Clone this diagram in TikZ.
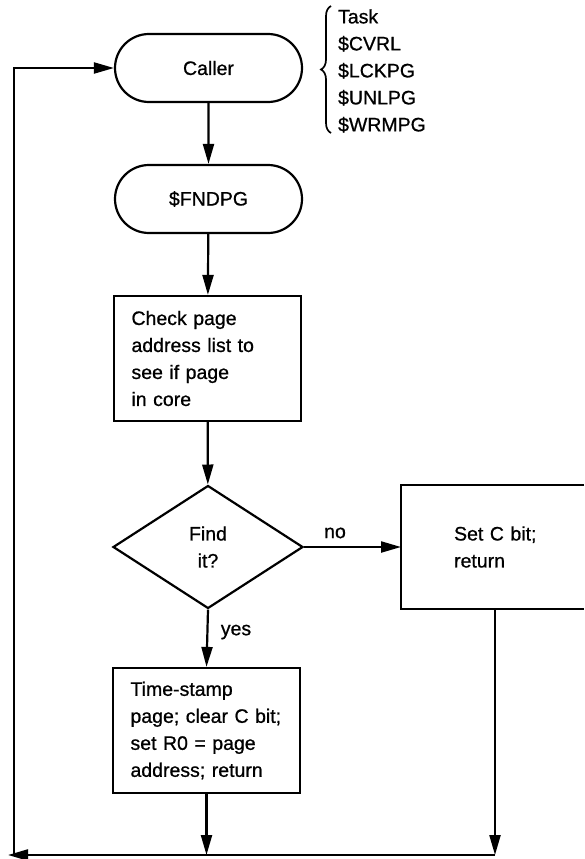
\documentclass[tikz,border=0pt]{standalone}
\usepackage{fontspec}
\setmainfont[FakeBold=0.8]{Liberation Sans}
\usetikzlibrary{arrows.meta,shapes.misc,shapes.geometric,decorations.pathreplacing}
\tikzset{
  txt/.style={font=\fontsize{19.5}{27}\selectfont},
  term/.style={txt,draw,rounded rectangle,minimum width=187pt,minimum height=68pt,inner sep=0pt},
  proc/.style={txt,draw,rectangle,minimum width=187pt,minimum height=125pt,inner sep=0pt,text width=152pt,align=left},
  dec/.style={txt,draw,diamond,minimum width=190pt,minimum height=123pt,inner sep=0pt,align=center},
  flow/.style={-{Triangle[length=20pt,width=11pt]}},
  lbl/.style={txt,inner sep=0pt}
}
\begin{document}
\begin{tikzpicture}[x=1pt,y=-1pt,line width=2.2pt]
\useasboundingbox (0,0) rectangle (584,859);

\node[term] (caller) at (208.5,68) {Caller};
\node[term] (fndpg) at (208.5,199) {\$FNDPG};
\node[proc] (check) at (207.5,358.5) {Check page\\address list to\\see if page\\in core};
\node[dec] (find) at (208,547) {Find\\it?};
\node[txt,rectangle,anchor=west,minimum height=124pt,inner xsep=52pt,inner ysep=0pt,text width=100pt,align=left] (setc) at (401,547) {Set C bit;\\return};
\coordinate (sne) at (584,485);
\coordinate (sse) at (584,609);
\draw (sne) -- (setc.north west |- sne) -- (setc.south west |- sse) -- (sse);
\node[proc] (stamp) at (206.5,730.5) {Time-stamp\\page; clear C bit;\\set R0 = page\\address; return};

\node[lbl,anchor=west,align=left] (list) at (337,71) {Task\\\$CVRL\\\$LCKPG\\\$UNLPG\\\$WRMPG};
\coordinate (bb) at (331,133);
\coordinate (bt) at (331,6);
\draw[line width=1.7pt,decorate,decoration={brace,amplitude=10pt}] (bb) -- (bt);

\coordinate (rb) at (495,855);
\coordinate (lb) at (8,855);
\coordinate (lc) at (14,855);

\draw[flow] (caller) -- (fndpg);
\draw[flow] (fndpg) -- (check);
\draw[flow] (check) -- (find);
\draw[flow] (find.east) -- (setc.west);
\draw[flow] (find.south) -- (stamp.north);
\draw[flow] (stamp.south) -- (stamp.south |- rb);
\draw[flow] (rb |- sse) -- (rb);
\draw[flow] (rb) -- (lb);
\draw[flow] (lc) |- (caller.west);

\node[lbl] (no) at (335,533) {no};
\node[lbl] (yes) at (236,632) {yes};
\end{tikzpicture}
\end{document}
